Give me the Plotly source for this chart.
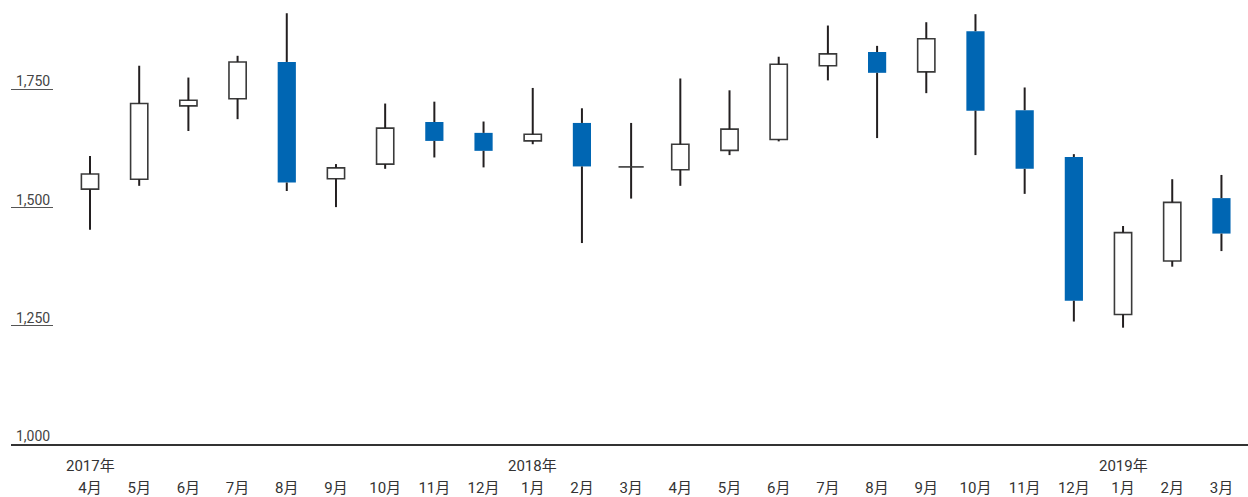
import plotly.graph_objects as go

# Monthly OHLC, April 2017 – March 2019
months = ["4月", "5月", "6月", "7月", "8月", "9月", "10月", "11月", "12月",
          "1月", "2月", "3月", "4月", "5月", "6月", "7月", "8月", "9月", "10月", "11月", "12月",
          "1月", "2月", "3月"]
year_pos = [0, 9, 21]
year_text = ["2017年", "2018年", "2019年"]

open_ = [1539, 1560, 1715, 1730, 1808, 1561, 1592, 1681, 1658,
         1641, 1679, 1586, 1580, 1621, 1644, 1800, 1829, 1787, 1873, 1706, 1607,
         1274, 1387, 1520]
high = [1609, 1800, 1775, 1821, 1911, 1592, 1720, 1724, 1682,
        1753, 1710, 1679, 1773, 1748, 1819, 1885, 1842, 1892, 1909, 1754, 1613,
        1461, 1560, 1569]
low = [1453, 1546, 1662, 1687, 1535, 1501, 1582, 1606, 1585,
       1634, 1425, 1519, 1546, 1611, 1640, 1769, 1647, 1742, 1611, 1529, 1259,
       1246, 1375, 1408]
close = [1571, 1720, 1727, 1808, 1553, 1584, 1668, 1641, 1620,
         1655, 1587, 1586, 1634, 1666, 1803, 1825, 1785, 1857, 1705, 1582, 1303,
         1447, 1511, 1445]

y_ticks = [1000, 1250, 1500, 1750]

BLUE = "#0066b3"
DARK = "#231f20"
EDGE = "#3a3a3a"
FONT = "Roboto, Noto Sans CJK JP, sans-serif"

x = list(range(len(months)))

fig = go.Figure()

# wicks: upper shadow (high to body top) and lower shadow (body bottom to low)
wx, wy = [], []
for i in x:
    top = max(open_[i], close[i])
    bot = min(open_[i], close[i])
    wx += [i, i, None, i, i, None]
    wy += [top, high[i], None, bot, low[i], None]
fig.add_trace(go.Scatter(x=wx, y=wy, mode="lines",
                         line=dict(color=DARK, width=2), hoverinfo="skip"))

# rising months: hollow bodies
up = [i for i in x if close[i] > open_[i]]
fig.add_trace(go.Bar(x=up, base=[open_[i] for i in up],
                     y=[close[i] - open_[i] for i in up], width=0.35,
                     marker=dict(color="white", line=dict(color=EDGE, width=1.6))))

# falling months: solid blue bodies
dn = [i for i in x if close[i] < open_[i]]
fig.add_trace(go.Bar(x=dn, base=[close[i] for i in dn],
                     y=[open_[i] - close[i] for i in dn], width=0.37,
                     marker=dict(color=BLUE, line=dict(width=0))))

# unchanged months: a flat bar
flat = [i for i in x if close[i] == open_[i]]
fig.add_trace(go.Scatter(x=flat, y=[close[i] for i in flat], mode="markers",
                         marker=dict(symbol="line-ew", size=18,
                                     line=dict(color=EDGE, width=1.6))))

# year labels above month labels
for p, t in zip(year_pos, year_text):
    fig.add_annotation(x=p, y=0, xref="x", yref="paper", text=t, showarrow=False,
                       yanchor="top", yshift=-11, font=dict(size=15, color="#333", family=FONT))

# y-axis value labels sitting on short tick lines
for v in y_ticks:
    fig.add_annotation(x=0, y=v, xref="paper", yref="y", text=f"{v:,}", showarrow=False,
                       xanchor="left", yanchor="bottom", xshift=3, yshift=-2,
                       font=dict(size=14, color="#444", family=FONT))

fig.update_layout(
    width=1248, height=497,
    margin=dict(l=11, r=0, t=0, b=53),
    paper_bgcolor="white", plot_bgcolor="white",
    showlegend=False, barmode="overlay",
    font=dict(family=FONT, color="#333"),
    xaxis=dict(range=[-1.606, 23.54], tickmode="array", tickvals=x, ticktext=months,
               showgrid=False, zeroline=False, showline=True, linecolor="#333", linewidth=2,
               ticks="", ticklabelstandoff=29, automargin=False,
               tickfont=dict(size=15, color="#333")),
    yaxis=dict(range=[1000, 1939], tickmode="array", tickvals=y_ticks,
               showticklabels=False, showgrid=False, zeroline=False, showline=False,
               automargin=False,
               ticks="inside", ticklen=42, tickwidth=1, tickcolor="#555"),
)

fig.write_html("out.html")
